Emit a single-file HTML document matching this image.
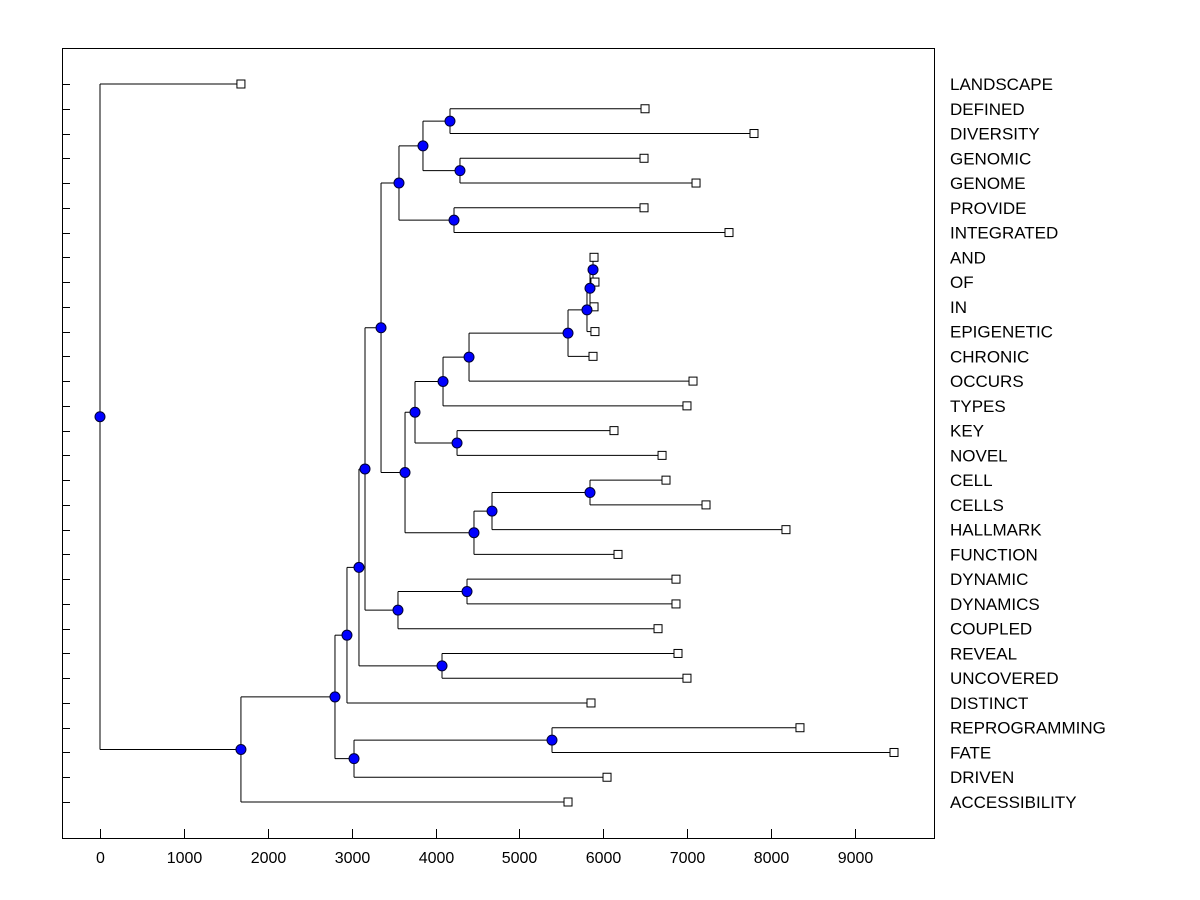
<!DOCTYPE html>
<html><head><meta charset="utf-8"><style>
html,body{margin:0;padding:0;background:#fff;}
svg{display:block;font-family:"Liberation Sans",Arial,sans-serif;}
</style></head><body>
<svg id="chart" width="1200" height="900" viewBox="0 0 1200 900" xmlns="http://www.w3.org/2000/svg">
<rect x="0" y="0" width="1200" height="900" fill="#fff"/>
<rect x="62.5" y="48.5" width="872" height="790" fill="none" stroke="#000" stroke-width="1"/>
<g id="links"></g>
<g id="marks"></g>
<g id="axis"></g>
</svg>
<script>
const leafNames = ["LANDSCAPE","DEFINED","DIVERSITY","GENOMIC","GENOME","PROVIDE","INTEGRATED","AND","OF","IN","EPIGENETIC","CHRONIC","OCCURS","TYPES","KEY","NOVEL","CELL","CELLS","HALLMARK","FUNCTION","DYNAMIC","DYNAMICS","COUPLED","REVEAL","UNCOVERED","DISTINCT","REPROGRAMMING","FATE","DRIVEN","ACCESSIBILITY"];
const leafValues = [1680,6497,7796,6485,7105,6485,7498,5889,5900,5889,5900,5877,7069,6997,6127,6700,6747,7224,8177,6175,6866,6866,6652,6890,6997,5853,8344,9465,6044,5579];
// merges: node id = 30 + index; children are leaf index (<30) or node id
const mergeLeft  = [1,3,30,5,32, 7,35,36,37,38,39, 14,40,16,43,44,42,45, 20,48,46,23,50,51,26,54,53,56,0];
const mergeRight = [2,4,31,6,33, 8, 9,10,11,12,13, 15,41,17,18,19,46,34, 21,22,49,24,25,27,27,28,55,29,57];
const mergeHeights = [4172,4291,3850,4220,3564, 5877,5841,5805,5579,4399,4089, 4256,3755,5841,4673,4458,3636,3350, 4375,3552,3159,4077,3087,2944,5388,3028,2801,1680,0];
const xTicks = [0,1000,2000,3000,4000,5000,6000,7000,8000,9000];
</script>
<script>
const NS="http://www.w3.org/2000/svg";
const X=v=>100+v*(755/9000);
const Y=i=>84+i*(718/29);
// corrected child pairs (fix indices in a few merges)
mergeLeft[16]=42; mergeRight[16]=45;
mergeLeft[17]=34; mergeRight[17]=46;
mergeLeft[20]=47; mergeRight[20]=49;
mergeLeft[22]=50; mergeRight[22]=51;
mergeLeft[23]=52; mergeRight[23]=25;
mergeLeft[24]=26; mergeRight[24]=27;
mergeLeft[25]=54; mergeRight[25]=28;
mergeLeft[26]=53; mergeRight[26]=55;
mergeLeft[27]=56; mergeRight[27]=29;
mergeLeft[28]=0;  mergeRight[28]=57;
const nx=[],ny=[];
leafValues.forEach((v,i)=>{nx[i]=X(v);ny[i]=Y(i);});
const links=document.getElementById('links'),marks=document.getElementById('marks'),axis=document.getElementById('axis');
function ln(g,x1,y1,x2,y2,name){const l=document.createElementNS(NS,'line');l.setAttribute('x1',x1);l.setAttribute('y1',y1);l.setAttribute('x2',x2);l.setAttribute('y2',y2);l.setAttribute('stroke','#000');l.setAttribute('stroke-width','1');


g.appendChild(l);}
const dots=[];
mergeHeights.forEach((h,k)=>{const id=30+k;const a=mergeLeft[k],b=mergeRight[k];const x=X(h);nx[id]=x;ny[id]=(ny[a]+ny[b])/2;
ln(links,x,ny[a],x,ny[b],'link-vertical');ln(links,x,ny[a],nx[a],ny[a],'link-horizontal');ln(links,x,ny[b],nx[b],ny[b],'link-horizontal');dots.push(id);});
leafNames.forEach((n,i)=>{const r=document.createElementNS(NS,'rect');r.setAttribute('x',nx[i]-4);r.setAttribute('y',ny[i]-4);r.setAttribute('width',8);r.setAttribute('height',8);r.setAttribute('fill','#fff');r.setAttribute('stroke','#000');


marks.appendChild(r);
const t=document.createElementNS(NS,'text');t.setAttribute('x',950);t.setAttribute('y',ny[i]+6);t.setAttribute('font-size','17');t.textContent=n;


axis.appendChild(t);
ln(axis,62,Math.round(ny[i])+0.5,70,Math.round(ny[i])+0.5,'y-tick');});
dots.forEach(id=>{const c=document.createElementNS(NS,'circle');c.setAttribute('cx',nx[id]);c.setAttribute('cy',ny[id]);c.setAttribute('r',5);c.setAttribute('fill','#0000ff');c.setAttribute('stroke','#000033');


marks.appendChild(c);});
xTicks.forEach(v=>{const x=Math.round(X(v))+0.5;ln(axis,x,838,x,829,'x-tick');const t=document.createElementNS(NS,'text');t.setAttribute('x',x);t.setAttribute('y',863);t.setAttribute('font-size','16');t.setAttribute('text-anchor','middle');t.textContent=v;


axis.appendChild(t);});
</script>
</body></html>
